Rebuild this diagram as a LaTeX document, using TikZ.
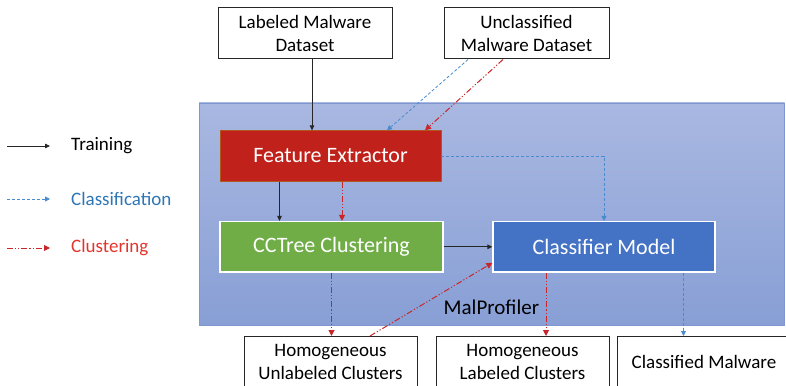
\documentclass[tikz,border=0pt]{standalone}
\usepackage{fontspec}
\setmainfont{Carlito}
\usetikzlibrary{arrows.meta,calc}

\definecolor{panelTop}{HTML}{A9B8E1}
\definecolor{panelBot}{HTML}{889FD5}
\definecolor{panelEdge}{HTML}{7F97D2}
\definecolor{feRed}{HTML}{C0211A}
\definecolor{feEdge}{HTML}{B0581E}
\definecolor{ccGreen}{HTML}{70AD47}
\definecolor{cmBlue}{HTML}{4472C4}
\definecolor{clsText}{HTML}{2E75B6}
\definecolor{clsLine}{HTML}{4A8BD0}
\definecolor{clusRed}{HTML}{C8262A}
\definecolor{clusText}{HTML}{E3342C}

\begin{document}
\begin{tikzpicture}[x=1pt,y=-1pt,
  inbox/.style={draw=white,line width=1.2pt,minimum height=50.5pt,inner sep=0pt,
    text=white,font=\fontsize{22}{26}\selectfont},
  iobox/.style={draw=black!85,line width=1pt,fill=white,inner sep=0pt,align=center,
    minimum height=51pt,font=\fontsize{19}{23}\selectfont},
  train/.style={draw=black!85,line width=0.8pt,-{Triangle[length=5pt,width=4.5pt]}},
  classify/.style={draw=clsLine,line width=0.8pt,dash pattern=on 3pt off 2pt,
    -{Triangle[length=5pt,width=5pt]}},
  cluster/.style={draw=clusRed,line width=1pt,
    dash pattern=on 6pt off 2pt on 1.2pt off 2pt on 1.2pt off 2pt,
    -{Triangle[length=6pt,width=6pt]}},
  legtext/.style={anchor=west,inner sep=0pt,font=\fontsize{19}{23}\selectfont}]

\useasboundingbox (0,0) rectangle (786,385);

% the MalProfiler panel
\node[draw=panelEdge,line width=0.8pt,top color=panelTop,bottom color=panelBot,
  minimum width=585.5pt,minimum height=222.5pt,inner sep=0pt] (panel) at (491.75,214.25) {};

% inner components
\node[inbox,fill=feRed,draw=feEdge,line width=0.8pt,minimum width=221pt] (fe) at (330.5,156) {Feature Extractor};
\node[inbox,fill=ccGreen,minimum width=223pt] (cct) at (331.5,246.8) {CCTree Clustering};
\node[inbox,fill=cmBlue,minimum width=222pt] (cm) at (604,246.8) {Classifier Model};

\node[anchor=base,inner sep=0pt,font=\fontsize{21}{25}\selectfont] (mp) at (491.4,314) {MalProfiler};

% inputs
\node[iobox,minimum width=174pt] (lab) at (305,33.5) {Labeled Malware\\Dataset};
\node[iobox,minimum width=165pt] (uncl) at (526.5,33.5) {Unclassified\\Malware Dataset};

% outputs
\node[iobox,minimum width=173pt] (hu) at (330.5,362) {Homogeneous\\Unlabeled Clusters};
\node[iobox,minimum width=173pt] (hl) at (522.5,362) {Homogeneous\\Labeled Clusters};
\node[iobox,minimum width=174pt] (cmw) at (704,362) {Classified Malware};

% connector end points
\coordinate (labOut) at ($(lab.south)+(7,0)$);
\coordinate (unclB) at ($(uncl.south)+(-58.5,0)$);
\coordinate (unclR) at ($(uncl.south)+(-23.5,0)$);
\coordinate (feInB) at ($(fe.north)+(56.5,0)$);
\coordinate (feInR) at ($(fe.north)+(94.5,0)$);
\coordinate (feOutK) at ($(fe.south)+(-51,0)$);
\coordinate (feOutR) at ($(fe.south)+(11.5,0)$);
\coordinate (huOut) at ($(hu.north)+(39.5,0)$);
\coordinate (cmIn) at ($(cm.west)+(0,16)$);
\coordinate (cmOutR) at ($(cm.south)+(-58,0)$);
\coordinate (cmOutB) at ($(cm.south)+(79.5,0)$);

% training
\draw[train] (labOut) -- (labOut |- fe.north);
\draw[train] (feOutK) -- (feOutK |- cct.north);
\draw[train] (cct.east) -- (cm.west);

% classification
\draw[classify] (unclB) -- (feInB);
\draw[classify] (fe.east) -| (cm.north);
\draw[classify] (cmOutB) -- (cmOutB |- cmw.north);

% clustering
\draw[cluster] (unclR) -- (feInR);
\draw[cluster] (feOutR) -- (feOutR |- cct.north);
\draw[cluster] (cct.south) -- (cct.south |- hu.north);
\draw[cluster] (huOut) -- (cmIn);
\draw[cluster] (cmOutR) -- (cmOutR |- hl.north);

% legend
\coordinate (l1s) at (7,146);   \coordinate (l1e) at (50,146);
\coordinate (l2s) at (7,199);   \coordinate (l2e) at (50,199);
\coordinate (l3s) at (7,248);   \coordinate (l3e) at (50,248);
\draw[train] (l1s) -- (l1e);
\draw[classify] (l2s) -- (l2e);
\draw[cluster] (l3s) -- (l3e);
\node[legtext] (lt1) at (71,146) {Training};
\node[legtext,text=clsText] (lt2) at (71,199) {Classification};
\node[legtext,text=clusText] (lt3) at (71,248) {Clustering};
\end{tikzpicture}
\end{document}
